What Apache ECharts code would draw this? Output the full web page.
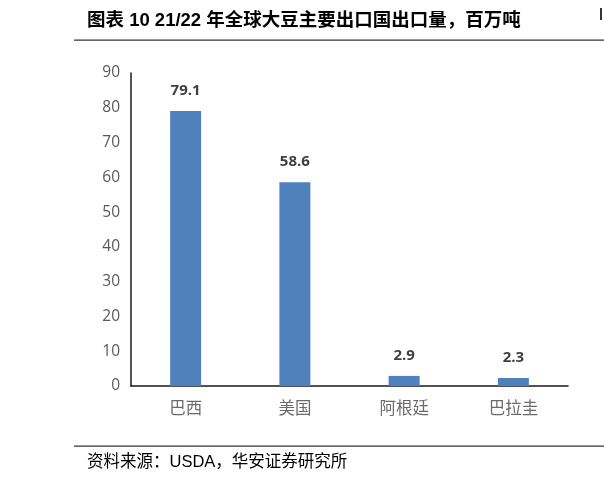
<!DOCTYPE html>
<html>
<head>
<meta charset="utf-8">
<script src="https://cdn.jsdelivr.net/npm/echarts@6/dist/echarts.min.js"></script>
<style>
  html, body { margin: 0; padding: 0; background: #fff; }
  #main { width: 604px; height: 486px; }
</style>
</head>
<body>
<div id="main"></div>
<script>
// 21/22 年全球大豆主要出口国出口量（百万吨）
var countries = ['巴西', '美国', '阿根廷', '巴拉圭'];
var exportVolume = [79.1, 58.6, 2.9, 2.3];
var yTicks = [0, 10, 20, 30, 40, 50, 60, 70, 80, 90];

var titleText = '图表 10 21/22 年全球大豆主要出口国出口量，百万吨';
var sourceText = '资料来源：USDA，华安证券研究所';

var cjk = "'Liberation Sans', 'Noto Sans CJK SC', sans-serif";
var num = "'Open Sans', 'Noto Sans CJK SC', sans-serif";

let myChart = echarts.init(document.getElementById('main'), null, { renderer: 'canvas' });

var option = {
  backgroundColor: '#fff',
  animation: false,
  graphic: [
    {
      type: 'text',
      left: 87,
      top: 12,
      style: {
        text: titleText,
        font: 'bold 18.5px ' + cjk,
        fill: '#000'
      }
    },
    // 标题下的横线
    {
      type: 'rect',
      shape: { x: 74, y: 39.5, width: 530, height: 1.2 },
      style: { fill: '#333' }
    },
    // 右上角被截断的竖条
    {
      type: 'rect',
      shape: { x: 600, y: 8, width: 2, height: 12 },
      style: { fill: '#333' }
    },
    // 资料来源上方横线
    {
      type: 'rect',
      shape: { x: 74, y: 445.5, width: 530, height: 1.2 },
      style: { fill: '#333' }
    },
    {
      type: 'text',
      left: 87,
      top: 454,
      style: {
        text: sourceText,
        font: '16.5px ' + cjk,
        fill: '#000'
      }
    }
  ],
  grid: {
    left: 131,
    right: 36,
    top: 73,
    bottom: 100,
    containLabel: false
  },
  xAxis: {
    type: 'category',
    data: countries,
    axisLine: { show: true, lineStyle: { color: '#1a1a1a', width: 1.5 } },
    axisTick: { show: false },
    axisLabel: {
      color: '#6a6a6a',
      fontSize: 16.5,
      margin: 15,
      fontFamily: cjk
    }
  },
  yAxis: {
    type: 'value',
    min: yTicks[0],
    max: yTicks[yTicks.length - 1],
    interval: 10,
    axisLine: { show: true, lineStyle: { color: '#1a1a1a', width: 1.5 } },
    axisTick: { show: false },
    splitLine: { show: false },
    axisLabel: {
      color: '#595959',
      fontSize: 15.5,
      margin: 11,
      fontFamily: num
    }
  },
  series: [
    {
      type: 'bar',
      data: exportVolume,
      barWidth: 31,
      itemStyle: { color: '#4f81bd' },
      label: {
        show: true,
        position: 'top',
        distance: 13,
        color: '#404040',
        fontSize: 15,
        fontWeight: 'bold',
        fontFamily: num
      }
    }
  ]
};

myChart.setOption(option);
</script>
</body>
</html>
